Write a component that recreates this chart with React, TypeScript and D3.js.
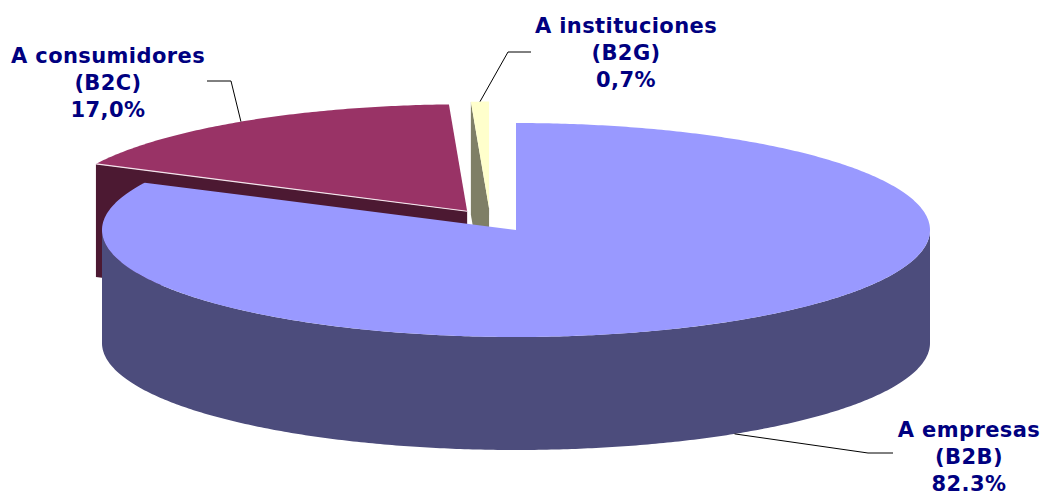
import React from 'react';
import * as d3 from 'd3';

// data
const categories = ['A empresas', 'A consumidores', 'A instituciones'];
const codes = ['(B2B)', '(B2C)', '(B2G)'];
const shares = [82.3, 17.0, 0.7];
const shareLabels = ['82.3%', '17,0%', '0,7%'];

const topColors = ['#9999FF', '#993366', '#FFFFCC'];
const sideColors = ['#4C4C7C', '#4C1932', '#7F7F66'];

const width = 1042;
const height = 491;

// 3d pie layout
const cx = 516;
const cy = 230;
const rx = 414;
const ry = 107;
const depth = 113;
// explode offsets, as fraction of the radii
const explode = [[0, 0], [-0.118, -0.175], [-0.065, -0.2]];

// label blocks: center x, first baseline, and the elbow of the leader
const labelPos = [
  { x: 969, y: 437, ex: 893, ey: 453, kx: 868, atBottom: true },
  { x: 108, y: 63, ex: 207, ey: 81, kx: 231, atBottom: false },
  { x: 626, y: 33, ex: 531, ey: 52, kx: 508, atBottom: false },
];
const lineGap = 27;

const pie = d3.pie<number>().sort(null).startAngle(0).endAngle(2 * Math.PI);

const App = () => {
  const arcs = pie(shares);

  const pt = (i: number, a: number, r = 1, dz = 0): [number, number] => {
    const ox = explode[i][0] * rx;
    const oy = explode[i][1] * ry;
    return [cx + ox + r * rx * Math.sin(a), cy + oy - r * ry * Math.cos(a) + dz];
  };

  const arcPts = (i: number, a0: number, a1: number, dz = 0) => {
    const n = Math.max(2, Math.ceil(Math.abs(a1 - a0) / 0.01));
    return d3.range(n + 1).map(k => pt(i, a0 + (a1 - a0) * k / n, 1, dz));
  };

  const line = d3.line();
  const poly = (p: [number, number][]) => line(p) + 'Z';

  const topFace = (i: number) => {
    const a = arcs[i];
    return poly([pt(i, 0, 0), ...arcPts(i, a.startAngle, a.endAngle)]);
  };

  // radial cut face at angle a
  const cutFace = (i: number, a: number) => {
    const c = pt(i, 0, 0);
    const o = pt(i, a);
    return poly([c, o, [o[0], o[1] + depth], [c[0], c[1] + depth]]);
  };

  // outer wall for the front half (pi/2 .. 3pi/2) clipped to slice
  const wall = (i: number) => {
    const a = arcs[i];
    const s = Math.max(a.startAngle, Math.PI / 2);
    const e = Math.min(a.endAngle, 1.5 * Math.PI);
    if (e <= s) return null;
    const top = arcPts(i, s, e);
    const bot = arcPts(i, s, e, depth).reverse();
    return poly([...top, ...bot]);
  };

  const [b2b, b2c, b2g] = [0, 1, 2];

  // leader anchor points on the slices (mid angle)
  const mid = (i: number) => (arcs[i].startAngle + arcs[i].endAngle) / 2;
  const anchor = (i: number) => pt(i, mid(i), 1, labelPos[i].atBottom ? depth : 0);

  return (
    <svg width={width} height={height} style={{ position: 'absolute', left: 0, top: 0 }}>
      <rect width={width} height={height} fill="#fff" />

      {/* back slices */}
      <path d={cutFace(b2c, arcs[b2c].startAngle)} fill={sideColors[b2c]} />
      <path d={topFace(b2c)} fill={topColors[b2c]} />
      <line
        x1={pt(b2c, arcs[b2c].startAngle)[0]} y1={pt(b2c, arcs[b2c].startAngle)[1]}
        x2={pt(b2c, 0, 0)[0]} y2={pt(b2c, 0, 0)[1]}
        stroke="#f4e4ec" strokeWidth={1.2}
      />

      <path d={cutFace(b2g, arcs[b2g].startAngle)} fill={sideColors[b2g]} />
      <path d={topFace(b2g)} fill={topColors[b2g]} />

      {/* front slice */}
      <path d={wall(b2b) || ''} fill={sideColors[b2b]} />
      <path d={topFace(b2b)} fill={topColors[b2b]} />

      {/* leaders */}
      {labelPos.map((l, i) => {
        const [ax, ay] = anchor(i);
        return (
          <polyline
            key={'ld' + i}
            points={`${l.ex},${l.ey} ${l.kx},${l.ey} ${ax},${ay}`}
            fill="none"
            stroke="#000"
            strokeWidth={1}
          />
        );
      })}

      {/* labels */}
      {labelPos.map((l, i) => (
        <text
          key={'lb' + i}
          x={l.x}
          y={l.y}
          textAnchor="middle"
          fill="#000080"
          style={{
            fontFamily: '"DejaVu Sans", Verdana, sans-serif',
            fontWeight: 'bold',
            fontSize: 21,
            letterSpacing: 0.4,
          }}
        >
          <tspan x={l.x} dy={0}>{categories[i]}</tspan>
          <tspan x={l.x} dy={lineGap}>{codes[i]}</tspan>
          <tspan x={l.x} dy={lineGap}>{shareLabels[i]}</tspan>
        </text>
      ))}
    </svg>
  );
};

export default App;
